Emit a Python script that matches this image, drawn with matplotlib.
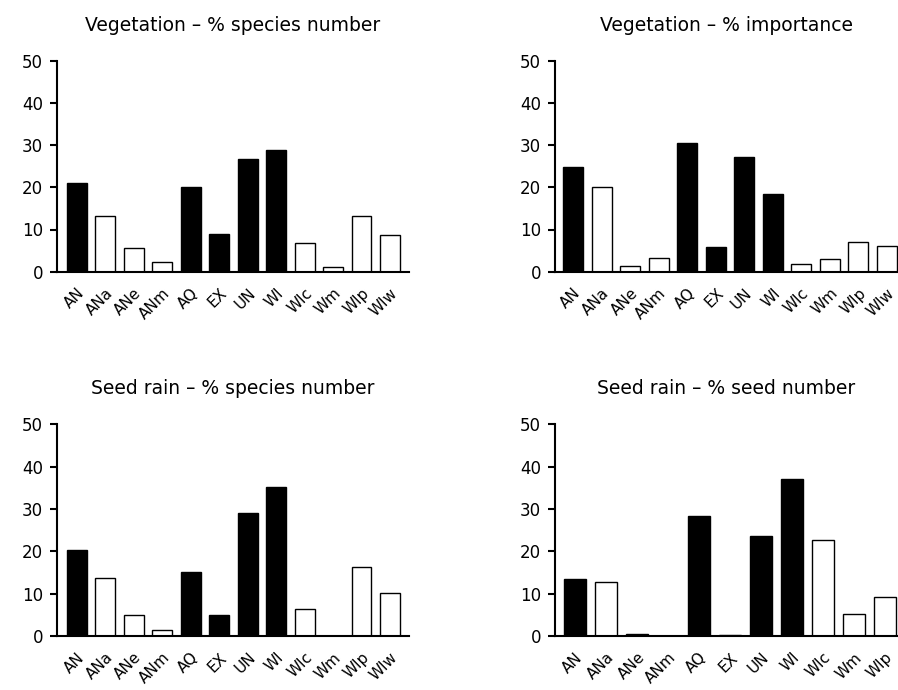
import numpy as np
import matplotlib.pyplot as plt

cats = ["AN", "ANa", "ANe", "ANm", "AQ", "EX", "UN", "WI", "WIc", "Wm", "WIp", "WIw"]
dark = ["AN", "AQ", "EX", "UN", "WI"]

veg_species = [21.1, 13.3, 5.5, 2.2, 20.1, 8.9, 26.7, 28.9, 6.7, 1.1, 13.3, 8.8]
veg_importance = [24.8, 20.1, 1.4, 3.3, 30.6, 5.8, 27.2, 18.3, 1.8, 3.0, 7.0, 6.0]
seed_species = [20.2, 13.8, 5.0, 1.3, 15.1, 5.0, 29.1, 35.3, 6.3, 0.0, 16.3, 10.2]
seed_number = [13.4, 12.8, 0.55, 0.0, 28.3, 0.2, 23.6, 37.0, 22.6, 5.2, 9.3]

titles = ["Vegetation \u2013 % species number", "Vegetation \u2013 % importance",
          "Seed rain \u2013 % species number", "Seed rain \u2013 % seed number"]
series = [veg_species, veg_importance, seed_species, seed_number]

W, H = 898, 690
fig = plt.figure(figsize=(W / 100, H / 100), dpi=100)
plt.rcParams['font.family'] = 'DejaVu Sans'

# axes boxes in pixels: left, top, right, bottom
boxes = [(57, 60.7, 409, 271.7), (555, 60.7, 898, 271.7),
         (57, 424.3, 409, 636), (555, 424.3, 898, 636)]
xlims = [(-0.7, 11.67), (-0.64, 11.39), (-0.7, 11.67), (-0.645, 10.42)]

for i in range(4):
    l, t, r, b = boxes[i]
    ax = fig.add_axes([l / W, 1 - b / H, (r - l) / W, (b - t) / H])
    vals = series[i]
    labs = cats[:len(vals)]
    x = np.arange(len(vals))
    colors = ["black" if c in dark else "white" for c in labs]
    ax.bar(x, vals, width=0.7, color=colors, edgecolor="black", linewidth=1.0, zorder=2)
    ax.set_xlim(*xlims[i])
    ax.set_ylim(0, 50)
    ax.set_yticks([0, 10, 20, 30, 40, 50])
    ax.set_xticks(x)
    ax.set_xticklabels(labs, rotation=45, ha="right", va="top", rotation_mode="anchor",
                       fontsize=11)
    ax.tick_params(axis="x", length=0, pad=10)
    ax.tick_params(axis="y", length=5, width=1.5, labelsize=12, pad=5)
    for s in ["top", "right"]:
        ax.spines[s].set_visible(False)
    for s in ["left", "bottom"]:
        ax.spines[s].set_linewidth(1.5)
    ax.text(0.5, 1 + 30 / (b - t), titles[i], transform=ax.transAxes, ha="center",
            va="baseline", fontsize=13.5)
    ax.patch.set_visible(False)

plt.savefig("out.png", dpi=100)
